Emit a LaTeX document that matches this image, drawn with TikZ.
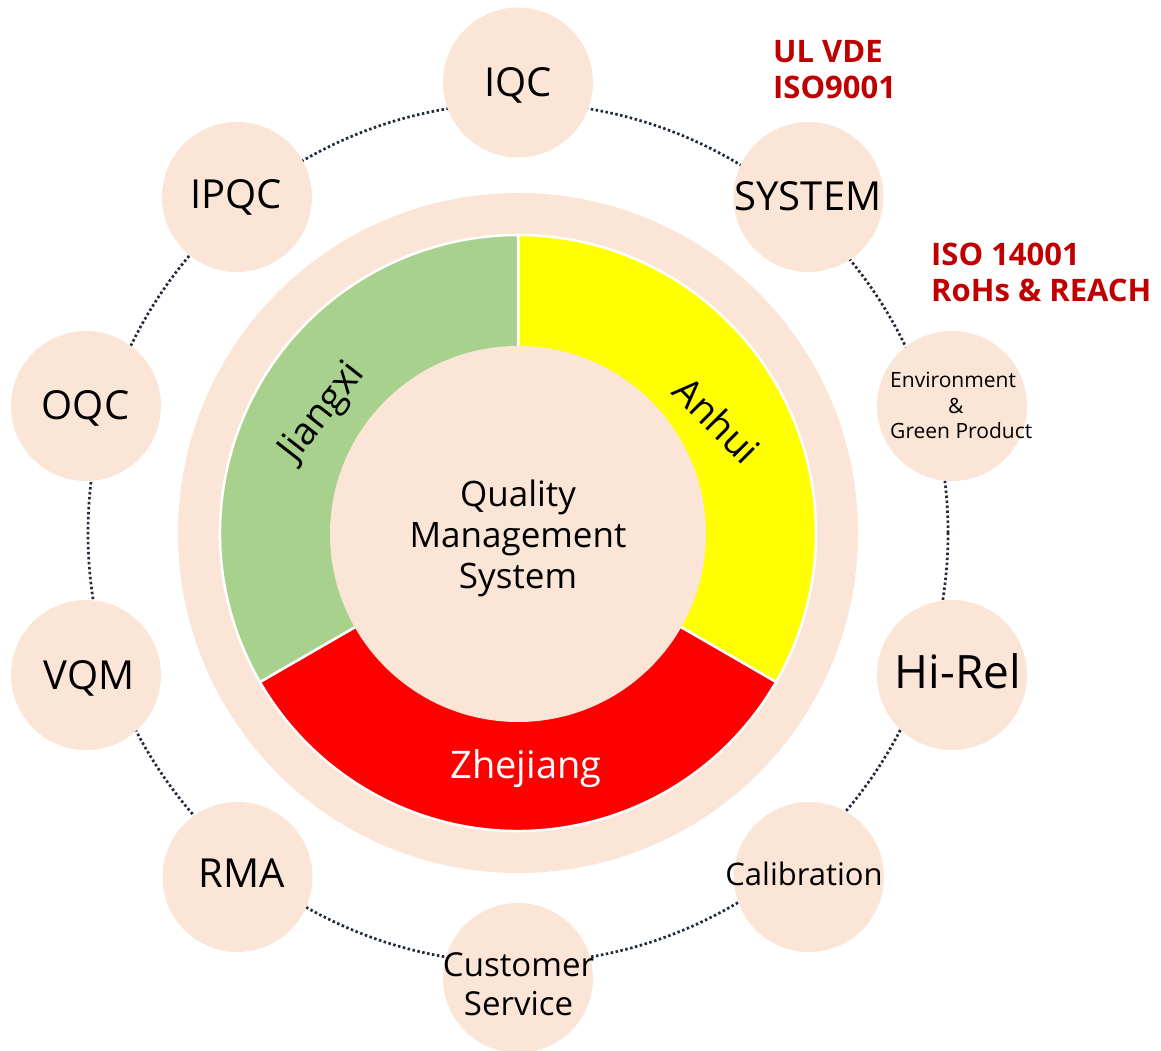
\documentclass[tikz,border=0pt]{standalone}
\usepackage{fontspec}
\setmainfont{Open Sans}
\definecolor{peach}{HTML}{FBE5D6}
\definecolor{segGreen}{HTML}{A9D18E}
\definecolor{segYellow}{HTML}{FFFF00}
\definecolor{segRed}{HTML}{FF0000}
\definecolor{certRed}{HTML}{C00000}
\definecolor{dotGray}{HTML}{1F2A3A}
\newcommand\setfs[2]{\fontsize{#1}{#2}\selectfont}
\tikzset{
  bubble/.style={circle, fill=peach, minimum size=150pt, inner sep=0pt},
  lbl/.style={anchor=base, inner sep=0pt, font=\setfs{40}{48}},
  seglbl/.style={inner sep=0pt, font=\setfs{38}{44}},
  cert/.style={anchor=base west, inner sep=0pt, align=left, text=certRed, font=\bfseries\setfs{31}{36}},
  dotline/.style={draw=dotGray, line width=2.7pt, dash pattern=on 2.5pt off 2.5pt},
  sector/.style={draw=white, line width=2.5pt}
}
\begin{document}
\begin{tikzpicture}[x=1pt,y=1pt]
\useasboundingbox (0,0) rectangle (1161,1051);
% dotted ring
\draw[dotline] (518,518) circle[radius=430];
% outer peach disc
\node[circle, fill=peach, minimum size=680pt, inner sep=0pt] (disc) at (518,518) {};
% segments
\begin{scope}[shift={(518,518)}]
\filldraw[sector, fill=segYellow] (90:298) arc[start angle=90, end angle=-30, radius=298] -- (-30:150) arc[start angle=-30, end angle=90, radius=150] -- cycle;
\filldraw[sector, fill=segRed] (-30:298) arc[start angle=-30, end angle=-150, radius=298] -- (-150:150) arc[start angle=-150, end angle=-30, radius=150] -- cycle;
\filldraw[sector, fill=segGreen] (210:298) arc[start angle=210, end angle=90, radius=298] -- (90:150) arc[start angle=90, end angle=210, radius=150] -- cycle;
\end{scope}
% core
\node[circle, fill=peach, minimum size=376pt, inner sep=0pt] (core) at (518,517) {};
\node[anchor=base, inner sep=0pt, align=center, font=\setfs{35}{41}] (coreT) at (518,462) {Quality\\Management\\System};
% segment labels
\node[seglbl, rotate=52] (jiangxi) at (323,638) {Jiangxi};
\node[seglbl, rotate=-45] (anhui) at (717,631) {Anhui};
\node[seglbl, anchor=base, text=white] (zhejiang) at (526,272) {Zhejiang};
% bubbles
\node[bubble] (iqc) at (518,968.5) {};
\node[bubble] (system) at (808.5,854) {};
\node[bubble] (env) at (952,645) {};
\node[bubble] (hirel) at (952,376) {};
\node[bubble] (calib) at (809,174) {};
\node[bubble] (cust) at (518,73) {};
\node[bubble] (rma) at (237.5,174) {};
\node[bubble] (vqm) at (86,376) {};
\node[bubble] (oqc) at (86,645) {};
\node[bubble] (ipqc) at (237,854) {};
% bubble labels
\node[lbl] (iqcT) at (518,954) {IQC};
\node[lbl] (systemT) at (808,840) {SYSTEM};
\node[lbl] (ipqcT) at (236,842) {IPQC};
\node[lbl] (oqcT) at (85.5,631) {OQC};
\node[lbl] (vqmT) at (89,361) {VQM};
\node[lbl] (rmaT) at (242,163) {RMA};
\node[lbl, font=\setfs{46}{54}] (hirelT) at (958,362) {Hi-Rel};
\node[lbl, font=\setfs{31}{37}] (calibT) at (804,165) {Calibration};
\node[lbl, align=center, font=\setfs{33}{39}] (custT) at (518.5,35) {Customer\\Service};
\node[anchor=base west, inner sep=0pt, align=left, font=\setfs{21}{25.5}] (envT) at (890,612) {Environment\\\hspace*{58pt}\&\\Green Product};
% certifications
\node[cert] (cert1) at (773,952) {UL VDE\\ISO9001};
\node[cert] (cert2) at (931,749) {ISO 14001\\RoHs \& REACH};
\end{tikzpicture}
\end{document}
